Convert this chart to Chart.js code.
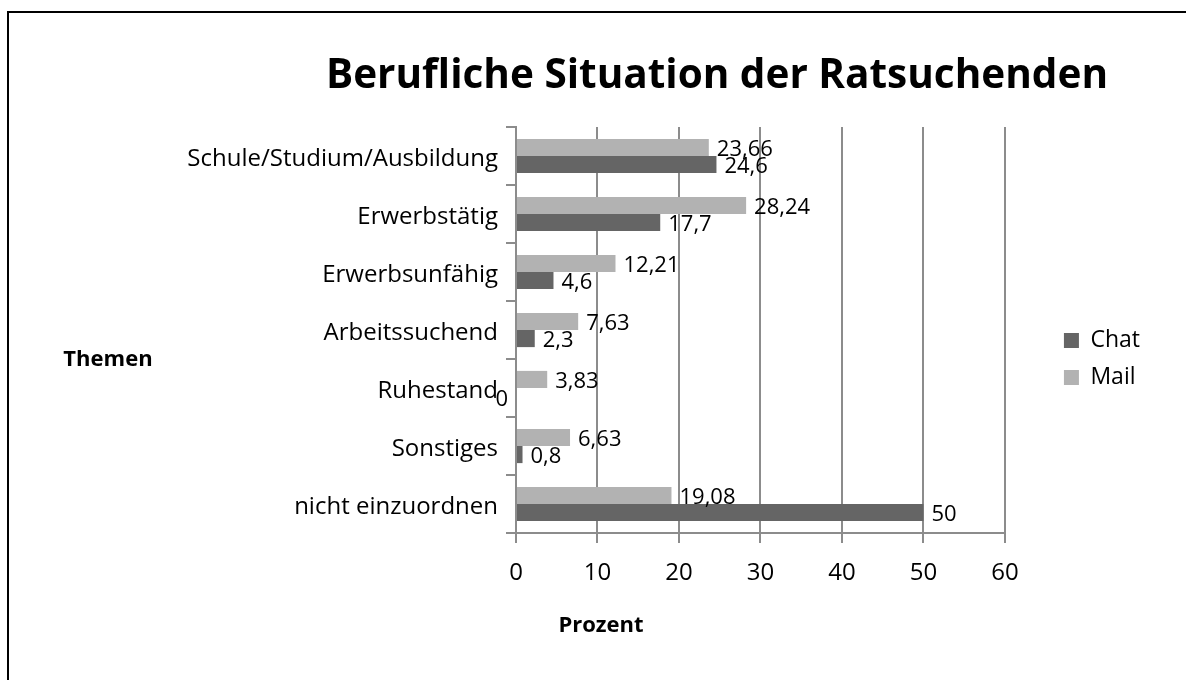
<!DOCTYPE html>
<html>
<head>
<meta charset="utf-8">
<script src="https://cdn.jsdelivr.net/npm/chart.js@4.4.1/dist/chart.umd.min.js"></script>
<style>
  html, body { margin: 0; padding: 0; background: #fff; overflow: hidden; }
  #frame { position: absolute; left: 7px; top: 11px; width: 1300px; height: 800px; border: 2px solid #000; }
  #myChart { position: absolute; left: 0; top: 0; }
</style>
</head>
<body>
<div id="frame"></div>
<canvas id="myChart" width="1186" height="680"></canvas>
<script>
// Daten
const kategorien = ["Schule/Studium/Ausbildung", "Erwerbstätig", "Erwerbsunfähig", "Arbeitssuchend", "Ruhestand", "Sonstiges", "nicht einzuordnen"]
const mailWerte = [23.66, 28.24, 12.21, 7.63, 3.83, 6.63, 19.08]
const chatWerte = [24.6, 17.7, 4.6, 2.3, 0, 0.8, 50]
const xTicks = [0, 10, 20, 30, 40, 50, 60]

const schrift = "'Open Sans', sans-serif"
Chart.defaults.font.family = schrift
Chart.defaults.color = "#000"

function zahl(v) {
  return String(v).replace(".", ",")
}

// Werte neben die Balken schreiben
const werteLabels = {
  id: "werteLabels",
  afterDatasetsDraw(chart) {
    const ctx = chart.ctx
    ctx.save()
    ctx.font = "22px " + schrift
    ctx.fillStyle = "#000"
    ctx.textBaseline = "middle"
    chart.data.datasets.forEach((ds, i) => {
      chart.getDatasetMeta(i).data.forEach((bar, j) => {
        const v = ds.data[j]
        if (v === 0) {
          ctx.textAlign = "right"
          ctx.fillText(zahl(v), bar.x - 8, bar.y + 3)
        } else {
          ctx.textAlign = "left"
          ctx.fillText(zahl(v), bar.x + 8, bar.y + 2)
        }
      })
    })
    ctx.restore()
  }
}

// Titel und Achsentitel
const texte = {
  id: "texte",
  afterDraw(chart) {
    const ctx = chart.ctx
    const a = chart.chartArea
    ctx.save()
    ctx.fillStyle = "#000"
    ctx.textBaseline = "alphabetic"
    ctx.textAlign = "center"
    ctx.font = "bold 40.5px " + schrift
    ctx.fillText("Berufliche Situation der Ratsuchenden", 717, 88)
    ctx.font = "bold 22px " + schrift
    ctx.fillText("Prozent", 601, a.bottom + 99)
    ctx.fillText("Themen", 108, 366)
    ctx.restore()
  }
}

const ctx = document.getElementById("myChart").getContext("2d")
const myChart = new Chart(ctx, {
  type: "bar",
  data: {
    labels: kategorien,
    datasets: [
      { label: "Mail", data: mailWerte, backgroundColor: "#b2b2b2" },
      { label: "Chat", data: chatWerte, backgroundColor: "#656565" }
    ]
  },
  options: {
    indexAxis: "y",
    responsive: false,
    animation: false,
    categoryPercentage: 0.59,
    barPercentage: 1.0,
    layout: { padding: { top: 127, left: 0, right: 36, bottom: 89 } },
    plugins: {
      title: { display: false },
      tooltip: { enabled: false },
      legend: {
        position: "right",
        reverse: true,
        labels: { boxWidth: 15, boxHeight: 15, padding: 14, font: { size: 23 } }
      }
    },
    scales: {
      x: {
        min: 0,
        max: 60,
        afterBuildTicks: s => { s.ticks = xTicks.map(v => ({ value: v })) },
        grid: { color: "#8c8c8c", lineWidth: 2, tickLength: 10 },
        border: { color: "#8c8c8c", width: 2 },
        ticks: { font: { size: 24 }, padding: 16 },
        afterFit: s => { s.height = 58 }
      },
      y: {
        grid: { drawOnChartArea: false, color: "#8c8c8c", lineWidth: 2, tickLength: 10 },
        border: { color: "#8c8c8c", width: 2 },
        ticks: { font: { size: 24 }, padding: 8, labelOffset: 3 },
        afterFit: s => { s.width = 516 }
      },
      abstand: {
        axis: "y",
        type: "category",
        position: "right",
        grid: { display: false },
        border: { display: false },
        ticks: { display: false },
        afterFit: s => { s.width = 45 }
      }
    }
  },
  plugins: [werteLabels, texte]
})
</script>
</body>
</html>
